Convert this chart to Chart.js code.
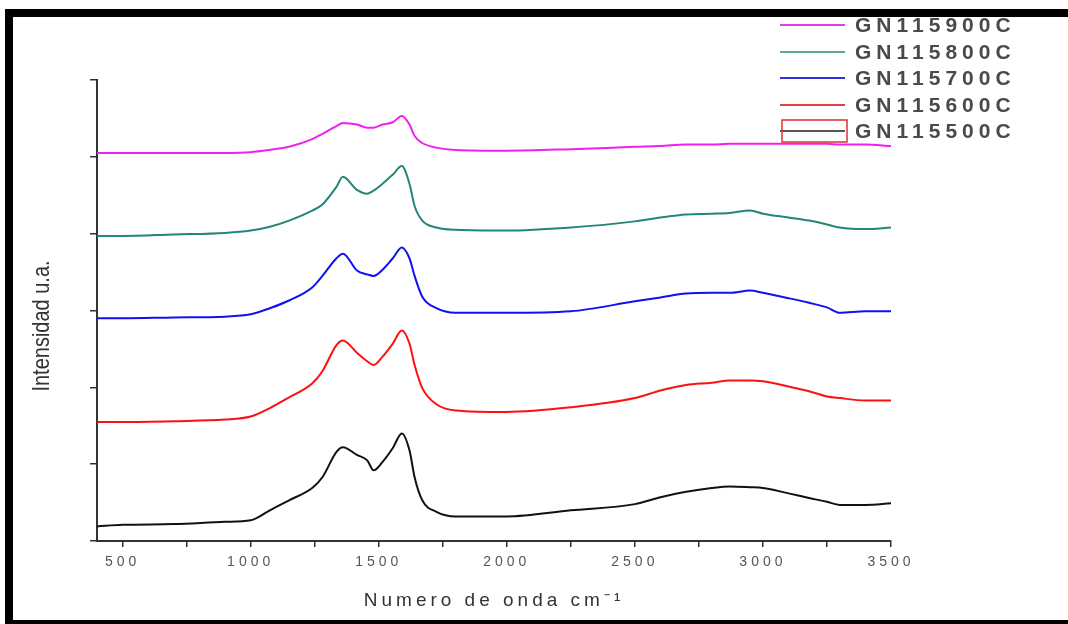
<!DOCTYPE html>
<html>
<head>
<meta charset="utf-8">
<script src="https://cdn.jsdelivr.net/npm/chart.js@4"></script>
<style>
    html, body { margin: 0; padding: 0; background: #fff; overflow: hidden; }
    #wrap { position: relative; width: 1068px; height: 624px; }
    #frame {
        position: absolute; left: 5px; top: 9px; width: 1100px; height: 615px;
        box-sizing: border-box; border-style: solid; border-color: #000;
        border-width: 8px 0 4px 8px; pointer-events: none;
    }
</style>
</head>
<body>
<div id="wrap">
    <canvas id="myChart"></canvas>
    <div id="frame"></div>
</div>
<script>
// wavenumber (cm-1) shared by every spectrum
const waveNumbers = [400, 500, 700, 900, 1000, 1075, 1150, 1240, 1280, 1335, 1360, 1415, 1455, 1480, 1515, 1555, 1590, 1620, 1640, 1670, 1725, 1800, 2000, 2250, 2500, 2600, 2700, 2800, 2870, 2950, 3000, 3100, 3180, 3250, 3300, 3400, 3500];

// intensities (u.a., stacked offsets as in the figure)
const gn500 = [0.19, 0.21, 0.22, 0.25, 0.27, 0.40, 0.53, 0.69, 0.83, 1.16, 1.22, 1.12, 1.05, 0.92, 1.03, 1.21, 1.40, 1.18, 0.83, 0.53, 0.38, 0.32, 0.32, 0.40, 0.48, 0.57, 0.64, 0.69, 0.71, 0.70, 0.69, 0.62, 0.56, 0.51, 0.47, 0.47, 0.49];
const gn600 = [1.55, 1.55, 1.56, 1.58, 1.62, 1.73, 1.87, 2.05, 2.21, 2.55, 2.61, 2.45, 2.34, 2.29, 2.40, 2.57, 2.74, 2.57, 2.29, 1.99, 1.78, 1.70, 1.68, 1.74, 1.86, 1.96, 2.03, 2.06, 2.09, 2.09, 2.08, 2.01, 1.95, 1.88, 1.86, 1.83, 1.83];
const gn700 = [2.90, 2.90, 2.91, 2.92, 2.95, 3.03, 3.13, 3.30, 3.45, 3.68, 3.74, 3.52, 3.47, 3.45, 3.53, 3.68, 3.82, 3.68, 3.45, 3.18, 3.03, 2.97, 2.97, 2.99, 3.12, 3.17, 3.22, 3.23, 3.23, 3.26, 3.23, 3.16, 3.10, 3.04, 2.97, 2.99, 2.99];
const gn800 = [3.97, 3.97, 3.99, 4.01, 4.04, 4.09, 4.17, 4.30, 4.38, 4.61, 4.74, 4.57, 4.52, 4.56, 4.65, 4.77, 4.88, 4.65, 4.36, 4.17, 4.08, 4.05, 4.04, 4.08, 4.16, 4.21, 4.25, 4.26, 4.27, 4.30, 4.26, 4.21, 4.17, 4.12, 4.08, 4.06, 4.08];
const gn900 = [5.05, 5.05, 5.05, 5.05, 5.06, 5.09, 5.13, 5.23, 5.30, 5.40, 5.44, 5.42, 5.38, 5.38, 5.42, 5.45, 5.53, 5.42, 5.27, 5.18, 5.12, 5.09, 5.08, 5.10, 5.13, 5.14, 5.16, 5.16, 5.17, 5.17, 5.17, 5.17, 5.17, 5.17, 5.16, 5.16, 5.14];

const seriesNames = ['GN115500C', 'GN115600C', 'GN115700C', 'GN115800C', 'GN115900C'];
const seriesColors = ['#111111', '#ff1010', '#1010f0', '#22867a', '#f020f0'];
const legendColors = ['#555555', '#e84040', '#3030e0', '#5aa89a', '#e040e0'];

const xTickValues = [500, 750, 1000, 1250, 1500, 1750, 2000, 2250, 2500, 2750, 3000, 3250, 3500];
const xTickLabels = ['500', '', '1000', '', '1500', '', '2000', '', '2500', '', '3000', '', '3500'];

const allSeries = [gn500, gn600, gn700, gn800, gn900];

const datasets = allSeries.map((vals, i) => ({
    label: seriesNames[i],
    data: vals.map((v, k) => ({ x: waveNumbers[k], y: v })),
    borderColor: seriesColors[i],
    borderWidth: 2,
    pointRadius: 0,
    cubicInterpolationMode: 'monotone',
    fill: false
}));

// spaced letters like the original figure
const spacingPlugin = {
    id: 'spacing',
    beforeDraw(chart) {
        chart.ctx.letterSpacing = '4px';
    }
};

// legend top right + y title drawn by hand
const extrasPlugin = {
    id: 'extras',
    afterDraw(chart) {
        const ctx = chart.ctx;
        ctx.save();
        ctx.letterSpacing = '5px';
        ctx.font = 'bold 21px "Liberation Sans", Arial, sans-serif';
        ctx.textBaseline = 'middle';
        ctx.textAlign = 'left';
        const rows = [25, 52, 78, 105, 131];
        for (let r = 0; r < 5; r++) {
            const i = 4 - r;
            const y = rows[r];
            ctx.strokeStyle = legendColors[i];
            ctx.lineWidth = 2;
            ctx.beginPath();
            ctx.moveTo(780, y);
            ctx.lineTo(845, y);
            ctx.stroke();
            ctx.fillStyle = '#4a4a4a';
            ctx.fillText(seriesNames[i], 855, y + 1);
        }
        // red box round the last sample
        ctx.strokeStyle = '#e03030';
        ctx.lineWidth = 1.5;
        ctx.strokeRect(782, 120, 65, 22);

        ctx.letterSpacing = '0px';
        ctx.translate(42, 326);
        ctx.rotate(-Math.PI / 2);
        ctx.scale(1, 1.2);
        ctx.textAlign = 'center';
        ctx.font = '20px "Liberation Sans", Arial, sans-serif';
        ctx.fillStyle = '#333';
        ctx.fillText('Intensidad u.a.', 0, 0);
        ctx.restore();
    }
};

new Chart('myChart', {
    type: 'line',
    data: { datasets: datasets },
    plugins: [spacingPlugin, extrasPlugin],
    options: {
        responsive: true,
        maintainAspectRatio: false,
        animation: false,
        layout: { padding: { top: 80, right: 177, left: 0, bottom: 0 } },
        plugins: {
            legend: { display: false },
            tooltip: { enabled: false }
        },
        scales: {
            x: {
                type: 'linear',
                min: 400,
                max: 3500,
                afterBuildTicks: (scale) => {
                    scale.ticks = xTickValues.map(v => ({ value: v }));
                },
                afterFit: (scale) => { scale.height = 83; },
                ticks: {
                    autoSkip: false,
                    maxRotation: 0,
                    padding: 7,
                    color: '#555',
                    font: { size: 14, family: '"Liberation Sans", Arial, sans-serif' },
                    callback: (value) => {
                        const idx = xTickValues.indexOf(value);
                        return idx >= 0 ? xTickLabels[idx] : '';
                    }
                },
                grid: { drawOnChartArea: false, drawTicks: true, tickLength: 6, color: '#333', lineWidth: 1.5 },
                border: { display: true, color: '#333', width: 2 },
                title: {
                    display: true,
                    text: 'Numero de onda cm⁻¹',
                    color: '#333',
                    font: { size: 19, family: '"Liberation Sans", Arial, sans-serif' },
                    padding: { top: 0, bottom: 12 }
                }
            },
            y: {
                min: 0,
                max: 6,
                afterFit: (scale) => { scale.width = 97; },
                ticks: { display: false, stepSize: 1 },
                grid: { drawOnChartArea: false, drawTicks: true, tickLength: 7, color: '#333', lineWidth: 1.5 },
                border: { display: true, color: '#333', width: 2 }
            }
        }
    }
});
</script>
</body>
</html>
